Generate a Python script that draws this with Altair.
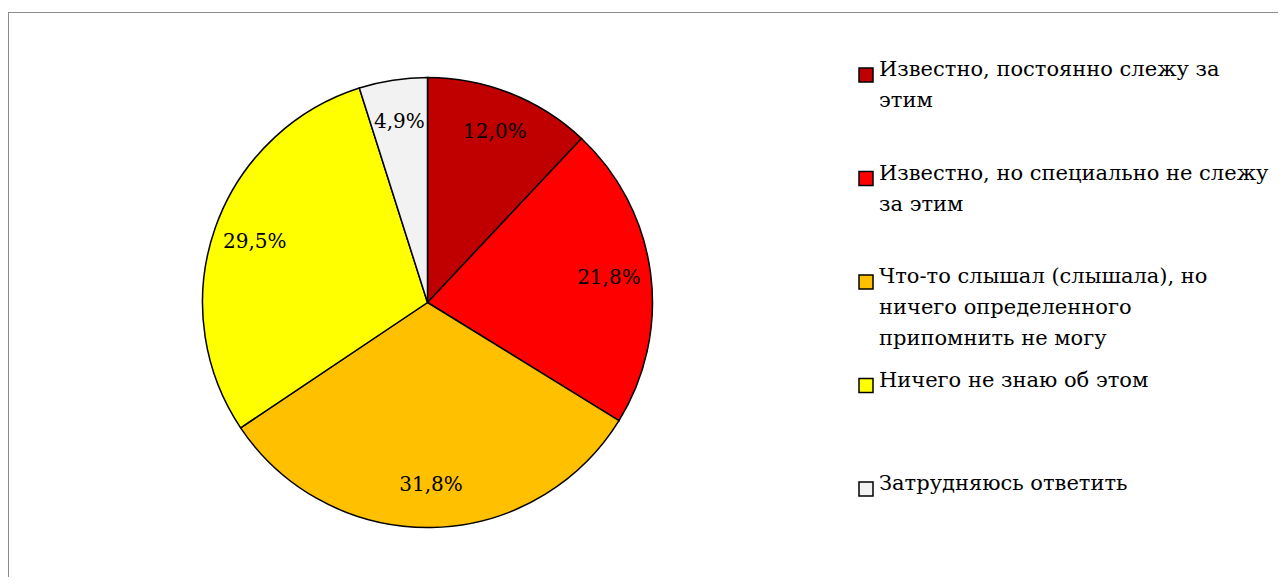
import altair as alt
import pandas as pd

categories = [
    "Известно, постоянно слежу за этим",
    "Известно, но специально не слежу за этим",
    "Что-то слышал (слышала), но ничего определенного припомнить не могу",
    "Ничего не знаю об этом",
    "Затрудняюсь ответить",
]
legend_text = [
    "Известно, постоянно слежу за\nэтим",
    "Известно, но специально не слежу\nза этим",
    "Что-то слышал (слышала), но\nничего определенного\nприпомнить не могу",
    "Ничего не знаю об этом",
    "Затрудняюсь ответить",
]
values = [12.0, 21.8, 31.8, 29.5, 4.9]
colors = ["#C00000", "#FF0000", "#FFC000", "#FFFF00", "#F2F2F2"]

df = pd.DataFrame({
    "idx": list(range(len(categories))),
    "category": categories,
    "legend": legend_text,
    "value": values,
    "label": [f"{v:.1f}".replace(".", ",") + "%" for v in values],
})

FONT = "DejaVu Serif"
CX, CY, R = 419.5, 294.5, 225

color = alt.Color("category:N", scale=alt.Scale(domain=categories, range=colors), legend=None)

base = alt.Chart(df)

frame = base.mark_rect(filled=False, stroke="#8c8c8c", strokeWidth=1).encode(
    x=alt.value(0.5), x2=alt.value(3000), y=alt.value(4.5), y2=alt.value(3000)
)

pie = base.mark_arc(radius=R, stroke="black", strokeWidth=1.5).encode(
    theta=alt.Theta("value:Q", stack=True),
    order=alt.Order("idx:Q"),
    color=color,
    x=alt.value(CX),
    y=alt.value(CY),
)

labels = base.mark_text(radius=183, font=FONT, fontSize=20, color="black").encode(
    theta=alt.Theta("value:Q", stack=True),
    order=alt.Order("idx:Q"),
    text="label:N",
    x=alt.value(CX),
    y=alt.value(CY),
)

ly = alt.Y("idx:Q", scale=alt.Scale(domain=[0, 4], range=[68, 482]), axis=None)

leg_sq = base.mark_square(size=196, stroke="black", strokeWidth=1.5, opacity=1, yOffset=-1).encode(
    x=alt.value(858),
    y=ly,
    fill=alt.Fill("category:N", scale=alt.Scale(domain=categories, range=colors), legend=None),
)

leg_txt = base.mark_text(
    align="left", baseline="alphabetic", font=FONT, fontSize=21, lineBreak="\n",
    lineHeight=31, color="black"
).encode(
    x=alt.value(871),
    y=ly,
    text="legend:N",
)

chart = alt.layer(frame, pie, labels, leg_sq, leg_txt).properties(
    width=1270, height=569, autosize=alt.AutoSizeParams(type="none"), padding=0
).configure_view(strokeWidth=0)

chart.save("out.html", embed_options={"renderer": "svg", "actions": False})
